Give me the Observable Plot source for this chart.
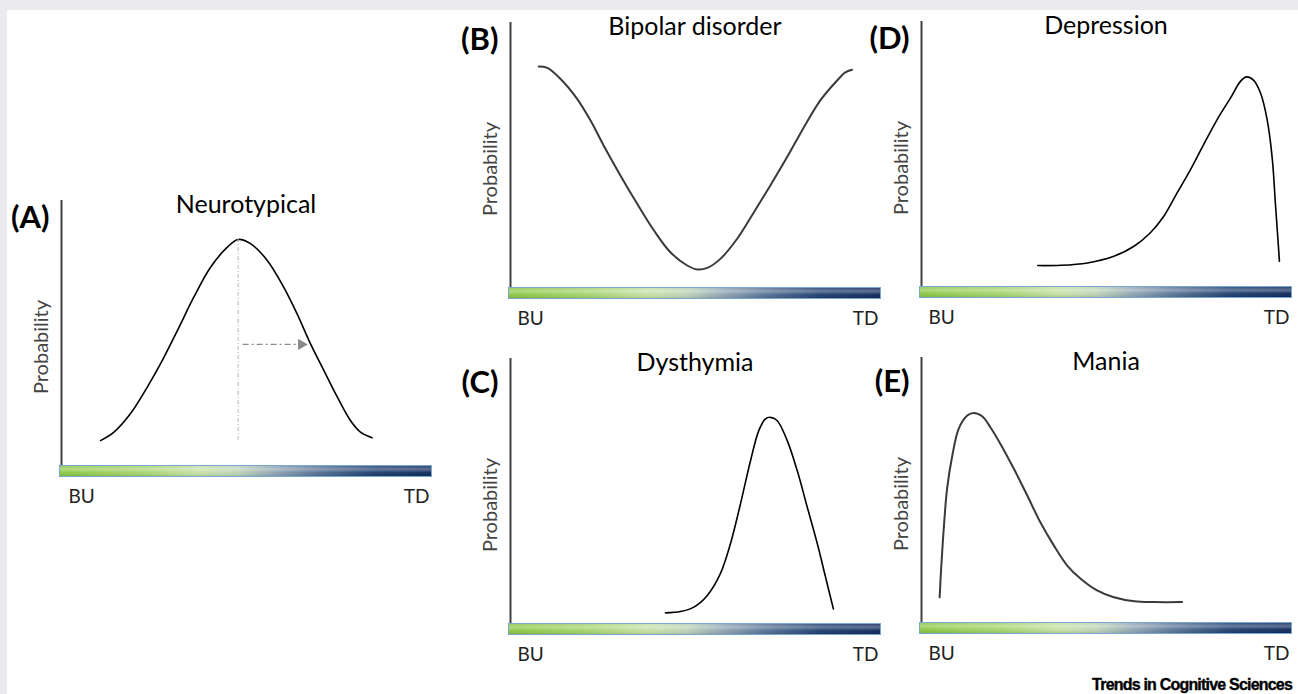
<!DOCTYPE html>
<html><head><meta charset="utf-8">
<script src="https://cdn.jsdelivr.net/npm/d3@7"></script>
<script src="https://cdn.jsdelivr.net/npm/@observablehq/plot@0.6"></script>
<style>
html,body{margin:0;padding:0;background:#fff;}
#page{position:relative;width:1298px;height:694px;background:#ebebed;overflow:hidden;font-family:Lato,sans-serif;}
#sheet{position:absolute;left:7px;top:10px;width:1291px;height:684px;background:#fff;}
.panel{position:absolute;}
#caption{position:absolute;right:6px;top:676px;font:bold 16px "Liberation Sans",Arial,sans-serif;letter-spacing:-0.8px;color:#000;white-space:nowrap;-webkit-text-stroke:0.35px #000;}
</style></head><body>
<div id="page"><div id="sheet"></div><div id="caption">Trends in Cognitive Sciences</div></div>
<script>
// ---- text ----
const panelLetters = ["(A)", "(B)", "(C)", "(D)", "(E)"];
const panelTitles = ["Neurotypical", "Bipolar disorder", "Dysthymia", "Depression", "Mania"];
const axisTitle = "Probability";
const xEndLabels = ["BU", "TD"];

// ---- data: x = position from BU (0) to TD (100); y = probability (0..100) ----
const neurotypicalX = [11.0, 14.6, 19.0, 23.5, 27.1, 31.6, 36.0, 40.5, 45.0, 47.9, 51.2, 55.7, 60.1, 63.7, 67.3, 70.9, 74.5, 78.0, 80.7, 83.8];
const neurotypicalY = [9.4, 12.6, 19.5, 29.5, 38.4, 50.9, 63.5, 74.8, 82.4, 85.3, 83.7, 77.4, 67.3, 57.2, 45.9, 35.8, 25.8, 17.0, 12.6, 10.5];
const neurotypicalPeak = [{x: 47.9, y1: 9.4, y2: 85.3}];
const neurotypicalShift = [{x1: 50.7, x2: 65.9, y: 45.7}];

const bipolarX = [8.1, 10.4, 13.9, 18.4, 22.0, 25.5, 30.0, 34.5, 39.0, 43.4, 47.9, 50.6, 53.3, 56.8, 61.3, 65.8, 70.2, 74.7, 79.2, 83.6, 88.1, 90.3, 92.1];
const bipolarY = [83.4, 82.9, 78.8, 71.2, 63.0, 53.6, 42.3, 31.6, 21.5, 13.3, 8.3, 6.8, 7.4, 10.8, 18.4, 28.4, 38.5, 49.2, 60.5, 70.6, 78.1, 81.2, 82.2];

const dysthymiaX = [42.1, 46.1, 49.7, 53.3, 56.8, 59.5, 62.2, 64.9, 67.1, 68.9, 70.2, 72.0, 74.7, 77.4, 80.1, 82.8, 85.0, 87.1];
const dysthymiaY = [4.0, 4.5, 6.2, 10.6, 18.8, 30.1, 45.2, 61.5, 72.8, 77.2, 77.8, 76.6, 69.1, 57.7, 43.9, 30.1, 17.5, 5.5];

const depressionX = [31.7, 37.8, 45.0, 52.1, 57.5, 61.9, 65.5, 69.1, 72.7, 76.2, 79.8, 83.4, 86.1, 87.7, 89.6, 91.4, 93.2, 94.6, 95.4, 96.1, 96.5];
const depressionY = [7.9, 8.0, 8.9, 11.4, 15.2, 20.3, 26.5, 35.4, 44.2, 53.6, 63.0, 71.2, 77.5, 79.1, 77.8, 73.1, 63.0, 47.9, 31.6, 17.7, 9.5];

const maniaX = [5.4, 5.8, 6.5, 7.4, 8.8, 10.5, 12.8, 14.6, 16.8, 19.0, 21.7, 25.3, 28.9, 32.4, 36.0, 39.6, 43.2, 47.6, 52.1, 57.6, 62.9, 70.4];
const maniaY = [9.5, 20.3, 35.4, 50.5, 63.0, 73.1, 78.1, 79.1, 77.8, 73.7, 67.4, 58.0, 47.9, 37.8, 29.1, 21.5, 16.5, 12.1, 9.5, 8.0, 7.7, 7.7];

// ---- layout & style (page pixels) ----
const M = {left: 60, top: 30, right: 15, bottom: 45};
const PLOT_W = 373, PLOT_H = 265, BAR_H = 12;
const panels = [
  {X: neurotypicalX, Y: neurotypicalY, barLeft: 59, axisTop: 200, stroke: "#000", sw: 1.6, letterDy: 18},
  {X: bipolarX, Y: bipolarY, barLeft: 508, axisTop: 22, stroke: "#3a3a3a", sw: 2, letterDy: 18},
  {X: dysthymiaX, Y: dysthymiaY, barLeft: 508, axisTop: 358, stroke: "#000", sw: 1.6, letterDy: 25},
  {X: depressionX, Y: depressionY, barLeft: 919, axisTop: 21, stroke: "#000", sw: 1.6, letterDy: 18},
  {X: maniaX, Y: maniaY, barLeft: 919, axisTop: 357, stroke: "#3a3a3a", sw: 2, letterDy: 25}
];
const hStops = [[0, "#86c43c"], [0.22, "#a2d26a"], [0.38, "#c4dfa4"], [0.48, "#b9d0b4"], [0.58, "#8aa0b0"], [0.7, "#4d6a8e"], [0.84, "#18396b"], [1, "#0a2558"]];
const vStops = [[0, "#fff", 0.1], [0.35, "#fff", 0.35], [0.65, "#fff", 0.05], [1, "#000", 0.15]];

function gradientBar(id) {
  return function (index, scales) {
    const x0 = scales.x(0), x1 = scales.x(100), y0 = scales.y(0);
    const g = d3.create("svg:g");
    const defs = g.append("defs");
    const h = defs.append("linearGradient").attr("id", id + "h").attr("x1", 0).attr("x2", 1).attr("y1", 0).attr("y2", 0);
    hStops.forEach(([o, c]) => h.append("stop").attr("offset", o).attr("stop-color", c));
    const v = defs.append("linearGradient").attr("id", id + "v").attr("x1", 0).attr("x2", 0).attr("y1", 0).attr("y2", 1);
    vStops.forEach(([o, c, a]) => v.append("stop").attr("offset", o).attr("stop-color", c).attr("stop-opacity", a));
    g.append("rect").attr("x", x0).attr("y", y0).attr("width", x1 - x0).attr("height", BAR_H).attr("fill", `url(#${id}h)`);
    g.append("rect").attr("x", x0).attr("y", y0).attr("width", x1 - x0).attr("height", BAR_H).attr("fill", `url(#${id}v)`);
    g.append("rect").attr("x", x0 + 0.5).attr("y", y0 + 0.5).attr("width", x1 - x0 - 1).attr("height", BAR_H - 1)
      .attr("fill", "none").attr("stroke", "#7aa6d2").attr("stroke-width", 1);
    return g.node();
  };
}

const page = document.getElementById("page");
panels.forEach((p, i) => {
  const pts = p.X.map((x, j) => ({x, y: p.Y[j]}));
  const marks = [
    Plot.ruleX([0], {y1: 0, y2: 100, dx: 2, stroke: "#404040", strokeWidth: 2}),
    Plot.line(pts, {x: "x", y: "y", curve: "catmull-rom", stroke: p.stroke, strokeWidth: p.sw}),
  ];
  if (i === 0) {
    marks.push(
      Plot.ruleX(neurotypicalPeak, {x: "x", y1: "y1", y2: "y2", stroke: "#b4b4b4", strokeWidth: 1, strokeDasharray: "4,2,1,2"}),
      Plot.link(neurotypicalShift, {x1: "x1", x2: "x2", y1: "y", y2: "y", dx: -6, stroke: "#8a8a8a", strokeWidth: 1.2, strokeDasharray: "6,3,2,3"}),
      Plot.dot(neurotypicalShift, {x: "x2", y: "y", dx: -4, symbol: "triangle", rotate: 90, r: 4.2, fill: "#8a8a8a", stroke: "none"})
    );
  }
  marks.push(
    gradientBar("bar" + i),
    Plot.text([panelTitles[i]], {frameAnchor: "top", textAnchor: "middle", dy: 4, lineAnchor: "middle", fontSize: 25, fill: "#000"}),
    Plot.text([panelLetters[i]], {frameAnchor: "top-left", textAnchor: "end", lineAnchor: "middle", dx: -10, dy: p.letterDy, fontSize: 31, fontWeight: "bold", fill: "#000"}),
    Plot.text([axisTitle], {frameAnchor: "left", textAnchor: "middle", rotate: -90, lineAnchor: "middle", dx: -18, dy: 14, fontSize: 20, fill: "#444"}),
    Plot.text([xEndLabels[0]], {frameAnchor: "bottom-left", textAnchor: "start", lineAnchor: "middle", dx: 9, dy: BAR_H + 19, fontSize: 19, fill: "#222"}),
    Plot.text([xEndLabels[1]], {frameAnchor: "bottom-right", textAnchor: "end", lineAnchor: "middle", dx: -3, dy: BAR_H + 19, fontSize: 19, fill: "#222"})
  );
  const chart = Plot.plot({
    width: PLOT_W + M.left + M.right,
    height: PLOT_H + M.top + M.bottom,
    marginLeft: M.left, marginRight: M.right, marginTop: M.top, marginBottom: M.bottom,
    x: {domain: [0, 100], axis: null},
    y: {domain: [0, 100], axis: null},
    style: {background: "transparent", fontFamily: "Lato, sans-serif", overflow: "visible"},
    marks
  });
  chart.classList.add("panel");
  chart.style.left = (p.barLeft - M.left) + "px";
  chart.style.top = (p.axisTop - M.top) + "px";
  page.appendChild(chart);
});
</script>
</body></html>
